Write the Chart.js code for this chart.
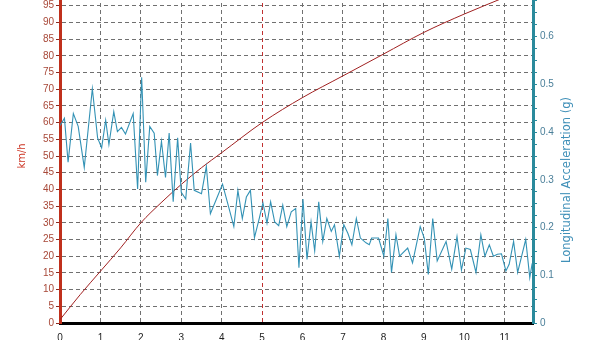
<!DOCTYPE html>
<html>
<head>
<meta charset="utf-8">
<script src="https://cdn.jsdelivr.net/npm/chart.js@4"></script>
<style>
  html, body { margin: 0; padding: 0; background: #fff; overflow: hidden; }
  #wrap { position: absolute; left: 0; top: -20px; width: 600px; height: 380px; }
</style>
</head>
<body>
<div id="wrap"><canvas id="chart" width="600" height="380"></canvas></div>
<script>
// Speed (km/h) against time (s), left axis
const speedTime = [0, 0.5, 1, 1.5, 2, 2.5, 3, 3.5, 4, 5, 6, 7, 8, 9, 10, 11, 11.7];
const speedKmh = [1, 8.5, 15.5, 22.5, 30, 36, 41.5, 46.5, 51, 60, 67.5, 74, 80.5, 87, 92.5, 97.5, 101];

// Longitudinal acceleration (g) against time (s), right axis
const accelTime = [
  0, 0.11, 0.20, 0.33, 0.45, 0.60, 0.80, 0.93, 1.03, 1.13,
  1.21, 1.33, 1.42, 1.52, 1.62, 1.81, 1.92, 2.02, 2.12, 2.22,
  2.33, 2.41, 2.51, 2.61, 2.70, 2.80, 2.91, 3.00, 3.11, 3.23,
  3.32, 3.50, 3.62, 3.72, 3.87, 4.02, 4.16, 4.30, 4.40, 4.51,
  4.61, 4.71, 4.81, 4.92, 5.02, 5.12, 5.21, 5.31, 5.41, 5.51,
  5.61, 5.72, 5.83, 5.91, 6.01, 6.11, 6.21, 6.30, 6.40, 6.50,
  6.60, 6.71, 6.79, 6.91, 7.02, 7.12, 7.22, 7.33, 7.43, 7.57,
  7.65, 7.71, 7.88, 8.01, 8.11, 8.20, 8.31, 8.40, 8.60, 8.72,
  8.91, 9.01, 9.11, 9.22, 9.33, 9.55, 9.69, 9.82, 9.93, 10.04,
  10.15, 10.29, 10.41, 10.51, 10.62, 10.72, 10.82, 10.92, 11.03, 11.11,
  11.22, 11.32, 11.41, 11.52, 11.62, 11.68
];
const accelG = [
  0.414, 0.429, 0.337, 0.439, 0.412, 0.326, 0.491, 0.388, 0.367, 0.425,
  0.374, 0.443, 0.401, 0.410, 0.396, 0.439, 0.281, 0.515, 0.295, 0.412,
  0.398, 0.309, 0.381, 0.305, 0.398, 0.254, 0.388, 0.274, 0.260, 0.377,
  0.278, 0.271, 0.328, 0.229, 0.260, 0.291, 0.247, 0.202, 0.278, 0.219,
  0.264, 0.278, 0.179, 0.216, 0.252, 0.209, 0.254, 0.212, 0.204, 0.247,
  0.202, 0.233, 0.240, 0.116, 0.260, 0.133, 0.212, 0.151, 0.254, 0.171,
  0.219, 0.192, 0.206, 0.140, 0.206, 0.188, 0.164, 0.219, 0.178, 0.168,
  0.164, 0.178, 0.178, 0.140, 0.219, 0.106, 0.185, 0.140, 0.157, 0.126,
  0.202, 0.178, 0.102, 0.219, 0.130, 0.171, 0.113, 0.181, 0.111, 0.157,
  0.154, 0.106, 0.185, 0.140, 0.164, 0.140, 0.144, 0.145, 0.109, 0.123,
  0.171, 0.106, 0.137, 0.175, 0.095, 0.125
];

const markerTime = 5; // red dashed marker line

const RED = '#c0301c';
const TEAL = '#2a8a9c';
const TICK_FONT = { family: '"Liberation Sans", Arial, sans-serif', size: 10 };

// right axis title reads bottom-to-top, so draw it ourselves
const rightTitle = {
  id: 'rightTitle',
  afterDraw(chart) {
    const { ctx, chartArea } = chart;
    ctx.save();
    ctx.translate(567, chartArea.bottom - 143);
    ctx.rotate(-Math.PI / 2);
    ctx.font = '11.5px "DejaVu Sans", sans-serif';
    ctx.fillStyle = '#4090b8';
    ctx.textAlign = 'center';
    ctx.textBaseline = 'middle';
    ctx.fillText('Longitudinal Acceleration (g)', 0, 0);
    ctx.restore();
  }
};

new Chart(document.getElementById('chart'), {
  type: 'line',
  data: {
    datasets: [
      {
        label: 'Longitudinal Acceleration (g)',
        data: accelTime.map((t, i) => ({ x: t, y: accelG[i] })),
        yAxisID: 'y1',
        borderColor: '#3392b5',
        borderWidth: 1.1,
        pointRadius: 0,
        tension: 0
      },
      {
        label: 'km/h',
        data: speedTime.map((t, i) => ({ x: t, y: speedKmh[i] })),
        yAxisID: 'y',
        borderColor: '#a02020',
        borderWidth: 1,
        pointRadius: 0,
        cubicInterpolationMode: 'monotone'
      }
    ]
  },
  options: {
    responsive: false,
    animation: false,
    layout: { padding: { top: 2, left: 0, right: 0, bottom: 0 } },
    plugins: { legend: { display: false }, tooltip: { enabled: false } },
    scales: {
      x: {
        type: 'linear',
        min: 0,
        max: 11.7,
        afterFit: (scale) => { scale.height = 37; },
        ticks: { stepSize: 1, includeBounds: false, padding: 9, color: '#222', font: TICK_FONT },
        grid: {
          drawTicks: false,
          color: (ctx) => (ctx.tick && ctx.tick.value === markerTime ? '#c03030' : '#707070')
        },
        border: { color: '#000', width: 3, dash: [4, 3] }
      },
      y: {
        position: 'left',
        min: 0,
        max: 100,
        afterFit: (scale) => { scale.width = 60; },
        ticks: { stepSize: 5, padding: 2, color: '#a84838', font: TICK_FONT },
        grid: { color: '#707070', tickLength: 4, tickColor: '#8a2a20', tickWidth: 1 },
        border: { color: RED, width: 3, dash: [4, 3] },
        title: {
          display: true,
          text: 'km/h',
          color: '#cc3322',
          font: { family: '"DejaVu Sans", sans-serif', size: 10 },
          padding: { top: 16, bottom: 0 }
        }
      },
      y1: {
        position: 'right',
        min: 0,
        max: 0.7,
        afterFit: (scale) => { scale.width = 67; },
        ticks: {
          stepSize: 0.025,
          autoSkip: false,
          padding: 3,
          color: '#4a7f99',
          font: TICK_FONT,
          callback: (v) => {
            const tenth = Math.round(v * 10);
            return Math.abs(v * 10 - tenth) < 1e-6 ? String(tenth / 10) : '';
          }
        },
        grid: { drawOnChartArea: false, tickLength: 4, tickColor: TEAL, tickWidth: 1 },
        border: { color: TEAL, width: 3 }
      }
    }
  },
  plugins: [rightTitle]
});
</script>
</body>
</html>
